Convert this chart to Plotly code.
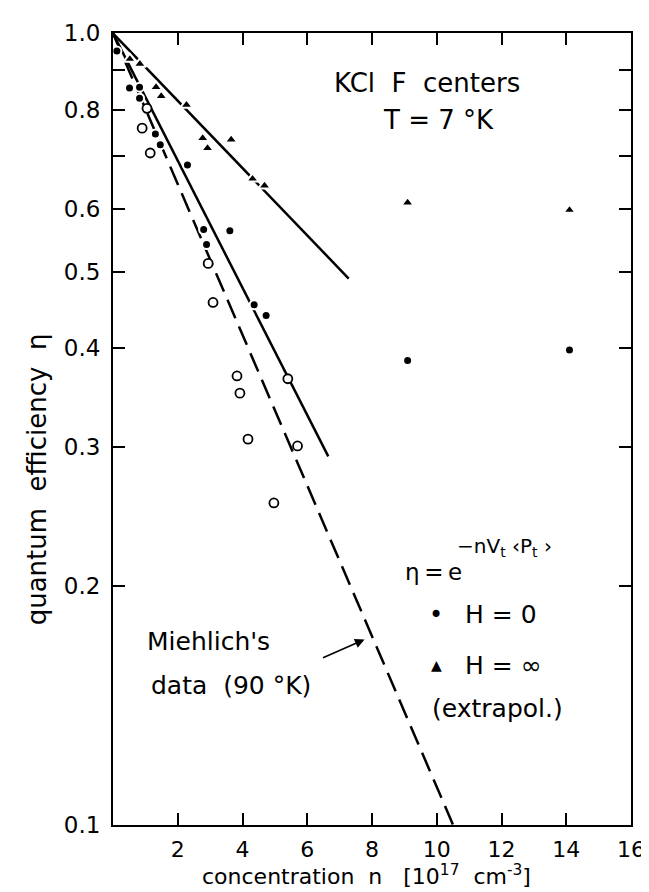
import plotly.graph_objects as go

# ---------------- data ----------------
# H = 0 (filled circles)
h0_n = [0.12, 0.51, 0.82, 0.82, 1.31, 1.46, 2.30, 2.80, 2.89, 3.61, 4.36, 4.73, 9.1, 14.1]
h0_eta = [0.95, 0.853, 0.855, 0.828, 0.746, 0.723, 0.682, 0.565, 0.541, 0.563, 0.454, 0.440, 0.386, 0.398]

# H = infinity (extrapolated, filled triangles)
hinf_n = [0.52, 0.83, 1.33, 1.49, 2.27, 2.77, 2.92, 3.65, 4.31, 4.68, 9.1, 14.1]
hinf_eta = [0.928, 0.915, 0.855, 0.833, 0.812, 0.737, 0.716, 0.734, 0.655, 0.642, 0.611, 0.598]

# open circles
open_n = [0.90, 1.05, 1.15, 2.94, 3.09, 3.83, 3.92, 4.17, 4.97, 5.40, 5.70]
open_eta = [0.759, 0.804, 0.706, 0.512, 0.457, 0.369, 0.351, 0.307, 0.255, 0.366, 0.301]

# fitted lines (end points)
fit_hinf_n = [0.0, 7.28]
fit_hinf_eta = [1.0, 0.49]
fit_h0_n = [0.0, 6.65]
fit_h0_eta = [1.0, 0.292]
miehlich_n = [0.0, 10.5]
miehlich_eta = [1.0, 0.1]

# axis ticks
x_ticks = [2, 4, 6, 8, 10, 12, 14, 16]
y_ticks = [0.1, 0.2, 0.3, 0.4, 0.5, 0.6, 0.7, 0.8, 0.9, 1.0]
y_ticktext = ["0.1", "0.2", "0.3", "0.4", "0.5", "0.6", " ", "0.8", " ", "1.0"]

FONT = "DejaVu Sans"

fig = go.Figure()

line_style = dict(color="black", width=2.5)
fig.add_trace(go.Scatter(x=fit_hinf_n, y=fit_hinf_eta, mode="lines", line=line_style, hoverinfo="skip"))
fig.add_trace(go.Scatter(x=fit_h0_n, y=fit_h0_eta, mode="lines", line=line_style, hoverinfo="skip"))
fig.add_trace(go.Scatter(x=miehlich_n, y=miehlich_eta, mode="lines",
                         line=dict(color="black", width=2.5, dash="20px,9px"), hoverinfo="skip"))

fig.add_trace(go.Scatter(x=open_n, y=open_eta, mode="markers",
                         marker=dict(symbol="circle", size=9, color="white",
                                     line=dict(color="black", width=1.8))))
fig.add_trace(go.Scatter(x=h0_n, y=h0_eta, mode="markers",
                         marker=dict(symbol="circle", size=9, color="black",
                                     line=dict(color="white", width=2))))
fig.add_trace(go.Scatter(x=hinf_n, y=hinf_eta, mode="markers",
                         marker=dict(symbol="triangle-up", size=11, color="black",
                                     line=dict(color="white", width=2))))

# helpers: pixel -> paper coordinates
L, R, T, B = 105, 626, 23, 817
def px(x):
    return (x - L) / (R - L)
def py(y):
    return (B - y) / (B - T)

ann = []
def text(s, x, y, size=24, xanchor="center"):
    ann.append(dict(text=s, x=px(x), y=py(y), xref="paper", yref="paper",
                    showarrow=False, xanchor=xanchor, yanchor="middle",
                    font=dict(family=FONT, size=size, color="black")))

text("KCl  F  centers", 421, 73, 26)
text("T = 7 °K", 432, 110, 26)
text("η\u2009=\u2009e", 397, 563, 23, "left")
text("−nV<sub>t</sub> ‹P<sub>t</sub> ›", 449, 538, 20, "left")
text("•", 430, 606, 24)
text("H = 0", 457, 606, 25, "left")
text("▲", 430, 657, 14)
text("H = ∞", 457, 657, 25, "left")
text("(extrapol.)", 424, 700, 25, "left")
text("Miehlich's", 137, 633, 25, "left")
text("data  (90 °K)", 141, 677, 25, "left")

# arrow
ann.append(dict(text="", x=px(358), y=py(631), xref="paper", yref="paper",
                showarrow=True, ax=-43, ay=19, axref="pixel", ayref="pixel",
                arrowhead=2, arrowsize=1.2, arrowwidth=1.6, arrowcolor="black"))

# axis titles
text("concentration  n   [10<sup>17</sup>  cm<sup>-3</sup>]", 360, 867, 22)
ann.append(dict(text="quantum  efficiency  η", x=px(28), y=py(470), xref="paper", yref="paper",
                showarrow=False, textangle=-90, xanchor="center", yanchor="middle",
                font=dict(family=FONT, size=26, color="black")))

fig.update_layout(
    width=649, height=892,
    margin=dict(l=L, r=649 - R, t=T, b=892 - B),
    paper_bgcolor="white", plot_bgcolor="white",
    showlegend=False,
    font=dict(family=FONT, size=24, color="black"),
    annotations=ann,
    xaxis=dict(range=[0, 16], tickvals=x_ticks, ticktext=[str(v) for v in x_ticks],
               ticks="inside", ticklen=12, tickwidth=2, tickcolor="black",
               showline=True, linewidth=2, linecolor="black", mirror="ticks",
               showgrid=False, zeroline=False, ticklabelstandoff=4,
               tickfont=dict(family=FONT, size=22)),
    yaxis=dict(type="log", range=[-1.0005, 0.0005], tickvals=y_ticks, ticktext=y_ticktext,
               ticks="inside", ticklen=12, tickwidth=2, tickcolor="black",
               showline=True, linewidth=2, linecolor="black", mirror="ticks",
               showgrid=False, zeroline=False, ticklabelstandoff=6,
               tickfont=dict(family=FONT, size=23)),
)

fig.write_html("out.html")
